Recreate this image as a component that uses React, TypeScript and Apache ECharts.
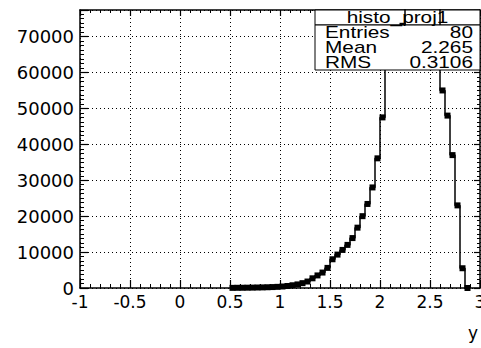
import React, { useEffect, useRef } from "react";
import * as echarts from "echarts";

// Histogram binning along y: 48 bins of width 0.05 starting at 0.5
const BIN_START = 0.5;
const BIN_WIDTH = 0.05;

// Bin contents (left to right)
const binCounts = [
  40, 60, 70, 90, 110, 140, 170, 210, 260, 320,
  420, 560, 760, 1000, 1350, 1800, 2700, 3500, 4300, 5600,
  8000, 9300, 10600, 12000, 13900, 16800, 20000, 23400, 28000, 36100,
  47500, 64000, 68000, 71000, 73000, 78500, 80000, 81000, 81500, 81000,
  80000, 79000, 55000, 48000, 37000, 23000, 5500, 0,
];

// Axis ranges
const xRange = [-1, 3];
const yRange = [0, 77400];

// Statistics box
const statsTitle = "histo_proj1";
const statsNames = ["Entries", "Mean", "RMS"];
const statsValues = ["80", "2.265", "0.3106"];

const binCenters = binCounts.map((_, i) => +(BIN_START + BIN_WIDTH * (i + 0.5)).toFixed(4));

export default function App() {
  const ref = useRef<HTMLDivElement>(null);

  useEffect(() => {
    if (!ref.current) return;
    const chart = echarts.init(ref.current, undefined, { renderer: "svg" });

    const frameLine = { show: true, onZero: false, lineStyle: { color: "#000", width: 1.5 } };
    const majorTick = { show: true, inside: true, length: 8, lineStyle: { color: "#000", width: 1.2 } };
    const dotted = { show: true, lineStyle: { color: "#000", width: 1, type: [1, 3] as number[] } };

    const textStyleBase = { fill: "#000", fontFamily: "Liberation Sans, Arial, sans-serif", fontSize: 16 };

    const statsRows = [32.5, 47, 62];
    const graphics: any[] = [
      {
        type: "rect",
        z: 1,
        shape: { x: 315, y: 10, width: 165, height: 15 },
        style: { fill: "#fff", stroke: "#000", lineWidth: 1 },
      },
      {
        type: "rect",
        z: 10,
        shape: { x: 315, y: 25, width: 165, height: 45 },
        style: { fill: "#fff", stroke: "#000", lineWidth: 1 },
      },
      {
        type: "text",
        z: 11,
        x: 397.5,
        y: 17.5,
        scaleX: 1.3,
        style: {
          ...textStyleBase,
          text: statsTitle,
          align: "center",
          textAlign: "center",
          verticalAlign: "middle",
          textVerticalAlign: "middle",
        },
      },
    ];
    statsNames.forEach((name, i) => {
      graphics.push({
        type: "text",
        z: 11,
        x: 325,
        y: statsRows[i],
        scaleX: 1.3,
        style: {
          ...textStyleBase,
          text: name,
          align: "left",
          textAlign: "left",
          verticalAlign: "middle",
          textVerticalAlign: "middle",
        },
      });
      graphics.push({
        type: "text",
        z: 11,
        x: 473,
        y: statsRows[i],
        scaleX: 1.3,
        style: {
          ...textStyleBase,
          text: statsValues[i],
          align: "right",
          textAlign: "right",
          verticalAlign: "middle",
          textVerticalAlign: "middle",
        },
      });
    });

    chart.setOption({
      animation: false,
      backgroundColor: "#fff",
      grid: { left: 80, right: 1, top: 10, bottom: 60, containLabel: false, outerBoundsMode: "none" },
      xAxis: [
        {
          type: "value",
          position: "bottom",
          min: xRange[0],
          max: xRange[1],
          interval: 0.5,
          axisLine: frameLine,
          axisTick: majorTick,
          minorTick: { show: true, splitNumber: 5, length: 4, lineStyle: { color: "#000", width: 1 } },
          axisLabel: {
            margin: 5,
            color: "#000",
            fontFamily: "DejaVu Sans, sans-serif",
            fontSize: 17,
            showMinLabel: true,
            showMaxLabel: true,
            hideOverlap: false,
            formatter: (v: number) => String(v),
          },
          splitLine: dotted,
          name: "y",
          nameLocation: "end",
          nameGap: -2,
          nameTextStyle: {
            color: "#000",
            fontFamily: "DejaVu Sans, sans-serif",
            fontSize: 17,
            align: "right",
            verticalAlign: "top",
            padding: [36, 0, 0, 0],
          },
        },
        {
          type: "value",
          position: "top",
          min: xRange[0],
          max: xRange[1],
          interval: 0.5,
          axisLine: frameLine,
          axisTick: { ...majorTick, length: 6 },
          minorTick: { show: true, splitNumber: 5, length: 3, lineStyle: { color: "#000", width: 1 } },
          axisLabel: { show: false },
          splitLine: { show: false },
        },
      ],
      yAxis: [
        {
          type: "value",
          position: "left",
          min: yRange[0],
          max: yRange[1],
          interval: 10000,
          axisLine: frameLine,
          axisTick: majorTick,
          minorTick: { show: true, splitNumber: 8, length: 4, lineStyle: { color: "#000", width: 1 } },
          axisLabel: {
            margin: 6,
            color: "#000",
            fontFamily: "DejaVu Sans, sans-serif",
            fontSize: 18,
            showMaxLabel: false,
            formatter: (v: number) => String(v),
          },
          splitLine: dotted,
        },
        {
          type: "value",
          position: "right",
          min: yRange[0],
          max: yRange[1],
          interval: 10000,
          axisLine: frameLine,
          axisTick: { ...majorTick, length: 6 },
          minorTick: { show: true, splitNumber: 8, length: 3, lineStyle: { color: "#000", width: 1 } },
          axisLabel: { show: false },
          splitLine: { show: false },
        },
      ],
      series: [
        {
          type: "line",
          xAxisIndex: 0,
          yAxisIndex: 0,
          data: binCenters.map((c, i) => [c, binCounts[i]]),
          step: "middle",
          symbol: "rect",
          symbolSize: 6,
          showAllSymbol: true,
          clip: true,
          z: 2,
          itemStyle: { color: "#000" },
          lineStyle: { color: "#000", width: 1.5 },
        },
      ],
      graphic: graphics,
    });

    return () => chart.dispose();
  }, []);

  return (
    <div
      ref={ref}
      style={{ position: "fixed", left: 0, top: 0, width: 481, height: 348, background: "#fff" }}
    />
  );
}
